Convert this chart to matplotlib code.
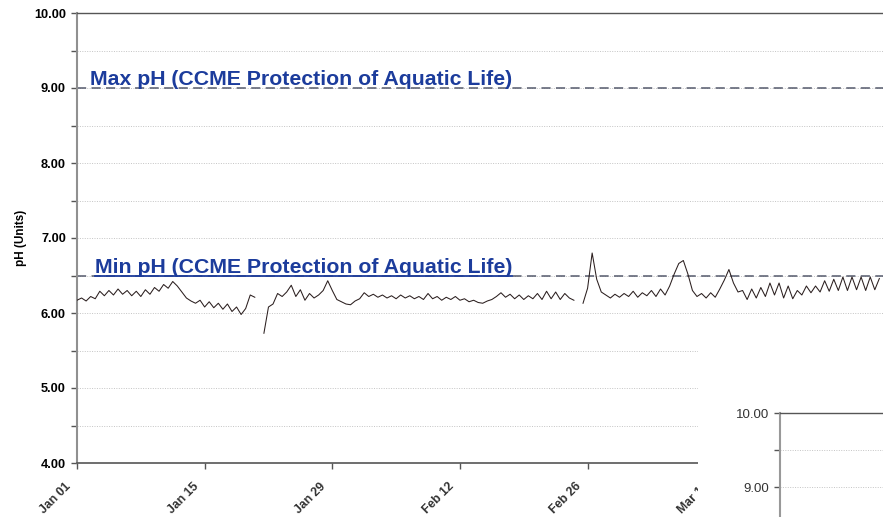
import numpy as np
import matplotlib
matplotlib.use('Agg')
import matplotlib.pyplot as plt
import matplotlib.dates as mdates
import matplotlib.transforms as mtransforms
from matplotlib.ticker import FormatStrFormatter, MultipleLocator
from datetime import datetime, timedelta

plt.rcParams['font.family'] = ['Liberation Sans', 'DejaVu Sans']

# pH logger readings, one value every half day
start = datetime(2009, 1, 1)
step_days = 0.5

seg1_start = 0.0
seg1_ph = [6.17, 6.20, 6.16, 6.22, 6.19, 6.29, 6.23, 6.30, 6.24, 6.32,
           6.25, 6.30, 6.23, 6.29, 6.22, 6.31, 6.25, 6.34, 6.29, 6.38,
           6.33, 6.42, 6.36, 6.28, 6.20, 6.16, 6.13, 6.17, 6.08, 6.15,
           6.07, 6.13, 6.05, 6.12, 6.02, 6.08, 5.98, 6.06, 6.24, 6.21]

seg2_start = 20.5
seg2_ph = [5.73, 6.08, 6.12, 6.26, 6.22, 6.28, 6.37, 6.22, 6.31, 6.17,
           6.26, 6.20, 6.24, 6.30, 6.43, 6.30, 6.18, 6.15, 6.12, 6.11,
           6.16, 6.19, 6.27, 6.22, 6.25, 6.21, 6.24, 6.20, 6.23, 6.19,
           6.24, 6.20, 6.23, 6.19, 6.22, 6.18, 6.26, 6.19, 6.22, 6.17,
           6.21, 6.18, 6.22, 6.17, 6.19, 6.15, 6.17, 6.14, 6.13, 6.16,
           6.18, 6.22, 6.27, 6.21, 6.25, 6.19, 6.24, 6.18, 6.23, 6.19,
           6.26, 6.18, 6.29, 6.19, 6.28, 6.18, 6.26, 6.20, 6.17]

seg3_start = 55.5
seg3_ph = [6.13, 6.33, 6.80, 6.45, 6.28, 6.24, 6.20, 6.25, 6.21, 6.26,
           6.22, 6.29, 6.21, 6.27, 6.23, 6.30, 6.22, 6.32, 6.24, 6.36,
           6.52, 6.66, 6.70, 6.52, 6.30, 6.22, 6.26, 6.20, 6.27, 6.21,
           6.32, 6.44, 6.58, 6.40, 6.28, 6.30, 6.18, 6.32, 6.20, 6.34,
           6.22, 6.40, 6.24, 6.40, 6.20, 6.36, 6.19, 6.30, 6.24, 6.36,
           6.27, 6.36, 6.28, 6.43, 6.29, 6.45, 6.30, 6.48, 6.30, 6.48,
           6.31, 6.48, 6.30, 6.48, 6.31, 6.46]

max_ph = 9.0
min_ph = 6.5
max_label = 'Max pH (CCME Protection of Aquatic Life)'
min_label = 'Min pH (CCME Protection of Aquatic Life)'
tick_step_days = 14
n_date_ticks = 7
x_end_days = 88.4

label_blue = '#1c3c9c'
line_col = '#2b1f1f'

W, H = 883, 517
fig = plt.figure(figsize=(W / 100, H / 100), dpi=100)
ax = fig.add_axes([77 / W, 54 / H, (W - 77) / W, 450 / H])


def to_dates(first_day, values):
    return [start + timedelta(days=first_day + i * step_days) for i in range(len(values))]


for s0, vals in [(seg1_start, seg1_ph), (seg2_start, seg2_ph), (seg3_start, seg3_ph)]:
    ax.plot(to_dates(s0, vals), vals, color=line_col, lw=0.75, zorder=3)

# guideline limits
ax.axhline(max_ph, color='#555a6c', lw=1.1, ls=(0, (6, 3.5)), zorder=2)
ax.axhline(min_ph, color='#555a6c', lw=1.1, ls=(0, (6, 3.5)), zorder=2)

ax.set_ylim(4, 10)
ax.set_xlim(start, start + timedelta(days=x_end_days))
ax.yaxis.set_major_locator(MultipleLocator(1))
ax.yaxis.set_minor_locator(MultipleLocator(0.5))
ax.yaxis.set_major_formatter(FormatStrFormatter('%.2f'))
ax.grid(which='both', axis='y', linestyle=(0, (1, 1.5)), color='#c4c4c4', lw=0.7, zorder=1)

ticks = [start + timedelta(days=tick_step_days * i) for i in range(n_date_ticks)]
ax.set_xticks(ticks)
ax.xaxis.set_major_formatter(mdates.DateFormatter('%b %d'))

ax.tick_params(axis='y', which='both', direction='out', length=4, width=1,
               color='#555555', pad=4, labelsize=9.2)
ax.tick_params(axis='x', direction='out', length=4, width=1, color='#555555',
               pad=11.5, labelsize=8.8, labelcolor='#333333')
for lab in ax.get_yticklabels():
    lab.set_fontweight('bold')
shift = mtransforms.ScaledTranslation(-0.08, 0, fig.dpi_scale_trans)
for lab in ax.get_xticklabels():
    lab.set_fontweight('bold')
    lab.set_rotation(45)
    lab.set_ha('right')
    lab.set_va('center')
    lab.set_rotation_mode('anchor')
    lab.set_transform(lab.get_transform() + shift)

ax.spines['right'].set_visible(False)
ax.spines['left'].set_color('#909090')
ax.spines['left'].set_linewidth(1.5)
ax.spines['bottom'].set_color('#555555')
ax.spines['bottom'].set_linewidth(1.2)
ax.spines['top'].set_color('#555555')
ax.spines['top'].set_linewidth(1.0)

ax.set_ylabel('pH (Units)', fontweight='bold', fontsize=8.5)
ax.yaxis.set_label_coords(-0.062, 0.5)

ytr = ax.get_yaxis_transform()
ax.text(0.016, 9.04, max_label, transform=ytr, color=label_blue,
        fontsize=15.3, fontweight='bold', va='baseline', zorder=4)
min_txt = ax.text(0.022, 6.535, min_label, transform=ytr, color=label_blue,
                  fontsize=15.3, fontweight='bold', va='baseline', zorder=4)

# underline the min label
fig.canvas.draw()
bb = min_txt.get_window_extent().transformed(ax.transAxes.inverted())
ax.plot([bb.x0, bb.x1], [min_ph, min_ph], transform=ytr, color=label_blue,
        lw=1.3, zorder=4)

# white panel with the second chart peeking in
cover = fig.add_axes([698 / W, 0, (W - 698) / W, (H - 338) / H])
cover.set_facecolor('white')
cover.set_xticks([])
cover.set_yticks([])
for s in cover.spines.values():
    s.set_visible(False)

inset = fig.add_axes([780 / W, 0, (W - 780) / W, 104 / H])
inset.set_facecolor('white')
inset.set_ylim(10 - 104 / 74, 10)
inset.set_xlim(0, 1)
inset.set_xticks([])
inset.yaxis.set_major_locator(MultipleLocator(1))
inset.yaxis.set_minor_locator(MultipleLocator(0.5))
inset.yaxis.set_major_formatter(FormatStrFormatter('%.2f'))
inset.grid(which='both', axis='y', linestyle=(0, (1, 1.5)), color='#c4c4c4', lw=0.7)
inset.tick_params(axis='y', which='both', direction='out', length=4, width=1,
                  color='#555555', pad=4, labelsize=9.5, labelcolor='#333333')
inset.spines['right'].set_visible(False)
inset.spines['bottom'].set_visible(False)
inset.spines['left'].set_color('#999999')
inset.spines['left'].set_linewidth(1.5)
inset.spines['top'].set_color('#555555')
inset.spines['top'].set_linewidth(1.0)

fig.savefig('out.png', dpi=100)
